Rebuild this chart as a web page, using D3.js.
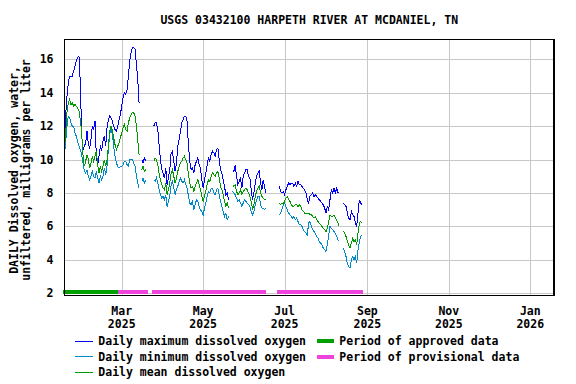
<!DOCTYPE html>
<html>
<head>
<meta charset="utf-8">
<script src="https://cdn.jsdelivr.net/npm/d3@7"></script>
<style>
body{margin:0;background:#fff}
text{font-family:"DejaVu Sans Mono",monospace;font-weight:bold;font-size:11.5px;fill:#000}
</style>
</head>
<body>
<svg id="chart" width="576" height="384"></svg>
<script>
// daily values, one per day starting at firstDay; null = no data
var firstDay = "2025-01-17"
var maxDO = [10.2,12.6,13.8,14.6,15.0,15.0,15.0,15.3,15.6,15.9,
  16.1,16.2,14.6,11.5,10.6,10.8,11.0,11.7,10.9,10.7,
  11.2,12.0,11.8,12.3,10.2,9.7,10.2,10.8,10.6,11.1,
  11.4,10.8,11.9,12.4,12.6,12.5,12.3,12.0,11.8,11.7,
  12.0,12.4,12.7,13.2,13.7,14.0,13.9,14.2,15.0,15.9,
  16.4,16.7,16.7,16.6,15.7,14.8,13.4,
  null,
  10.0,9.8,10.1,9.9,
  null,null,null,null,null,
  12.0,12.2,12.2,11.8,10.9,10.0,9.4,9.2,8.9,9.5,
  8.5,8.9,9.4,10.4,10.5,9.9,9.3,9.8,10.8,11.2,
  11.7,12.2,12.4,12.6,12.6,12.3,10.8,9.9,9.4,9.5,
  9.2,9.7,9.9,10.1,9.7,9.5,8.8,8.3,8.8,9.2,
  9.7,10.1,9.9,10.3,10.5,10.4,10.2,10.6,10.7,10.0,
  9.4,9.2,8.8,8.4,7.9,8.0,7.6,
  null,null,
  9.4,9.3,9.7,9.0,8.5,8.7,8.9,8.3,9.0,9.2,
  9.4,9.4,9.0,8.9,8.2,7.6,8.0,8.6,9.0,9.2,
  9.3,8.6,8.2,8.8,8.4,8.0,
  null,null,null,null,null,null,null,null,null,
  8.4,8.1,8.0,8.1,7.9,8.2,8.4,8.6,8.5,8.6,
  8.6,8.4,8.6,8.4,8.7,8.5,8.5,8.4,8.3,8.2,
  8.0,7.6,7.4,7.8,7.9,8.0,7.8,7.9,7.8,7.7,
  7.6,7.5,7.4,7.3,7.1,6.8,7.2,7.0,7.6,8.2,
  8.0,8.3,8.0,8.3,8.0,8.1,
  null,null,
  7.4,7.3,7.2,6.8,6.5,6.4,6.9,6.7,6.6,6.2,6.0,6.8,7.6,7.4,7.3]

var minDO = [10.2,11.0,12.0,12.6,12.5,12.2,12.0,12.0,11.6,11.4,
  11.1,10.8,10.6,10.3,9.8,9.3,9.2,9.4,9.0,8.8,
  9.0,9.3,9.0,8.9,9.3,8.9,8.6,9.0,8.8,9.0,
  9.5,9.1,9.6,10.6,11.5,11.8,11.5,10.8,10.2,9.8,
  9.6,9.5,9.6,9.6,9.7,9.9,9.9,9.7,9.6,10.0,
  10.0,10.0,9.8,9.6,9.0,8.6,8.3,
  null,
  8.7,8.9,8.6,8.8,
  null,null,null,null,null,
  8.8,8.7,8.9,8.6,8.2,7.9,7.7,7.8,7.6,7.9,
  7.2,7.5,7.8,8.5,8.7,8.3,7.9,8.2,8.4,8.7,
  8.9,8.7,8.6,8.8,8.5,8.3,7.8,7.4,7.3,7.5,
  7.0,7.3,7.6,7.5,7.2,7.0,6.9,6.7,7.1,7.4,
  7.8,8.1,8.0,8.3,8.3,8.0,7.9,8.2,8.3,7.9,
  7.5,7.2,6.9,6.6,6.8,6.4,6.6,
  null,null,
  8.1,8.0,7.9,7.7,7.5,7.6,7.4,7.2,7.4,7.6,
  7.5,7.4,7.3,7.2,6.9,6.7,6.9,7.3,7.6,7.8,
  7.8,7.3,7.1,7.1,7.0,7.1,
  null,null,null,null,null,null,null,null,null,
  6.7,6.8,7.0,7.3,7.4,7.2,7.0,6.8,6.7,6.6,
  6.5,6.6,6.4,6.5,6.3,6.1,6.1,6.0,5.8,5.7,
  5.6,5.5,6.2,6.3,6.0,5.8,5.7,5.6,5.4,5.3,
  5.1,5.0,4.9,4.7,4.6,4.5,4.9,5.5,6.0,5.9,
  5.8,5.7,5.6,5.4,5.2,5.1,
  null,null,
  4.7,4.5,4.2,3.8,3.6,3.5,4.0,4.2,4.0,4.2,3.8,4.6,5.1,5.4,5.5]

var meanDO = [10.5,11.5,12.8,13.4,13.6,13.3,13.4,13.2,13.3,13.2,
  13.1,12.9,12.4,11.6,10.3,9.6,9.9,10.3,10.0,9.5,
  9.8,10.2,9.9,10.2,10.5,9.7,9.2,9.6,9.3,9.6,
  10.0,9.6,10.0,10.8,11.7,12.0,11.8,11.3,10.9,10.6,
  10.8,11.0,11.3,11.6,11.9,12.1,11.8,11.7,12.2,12.5,
  12.7,12.8,12.8,12.6,12.0,11.2,10.3,
  null,
  9.4,9.6,9.3,9.4,
  null,null,null,null,null,
  9.9,10.1,10.0,9.7,9.2,8.8,8.5,8.3,8.2,8.6,
  7.9,8.2,8.6,9.2,9.4,9.0,8.6,8.9,9.3,9.6,
  9.8,9.9,10.1,10.2,10.0,9.8,9.1,8.6,8.3,8.4,
  8.1,8.4,8.6,8.8,8.5,8.2,7.8,7.5,7.8,8.1,
  8.5,8.8,8.7,9.0,9.2,9.1,9.0,9.2,9.3,8.9,
  8.4,8.2,7.9,7.5,7.2,7.4,7.1,
  null,null,
  8.5,8.4,8.5,8.1,7.9,8.0,8.2,7.9,8.1,8.2,
  8.3,8.2,8.0,7.8,7.5,7.0,7.3,7.8,8.1,8.3,
  8.4,8.0,7.8,7.7,7.6,7.6,
  null,null,null,null,null,null,null,null,null,
  7.4,7.3,7.4,7.35,7.5,7.7,7.8,7.6,7.5,7.3,
  7.2,7.2,7.3,7.3,7.2,7.3,7.2,7.0,6.9,6.8,
  6.8,6.8,6.8,6.7,6.7,6.6,6.5,6.6,6.4,6.3,
  6.2,6.1,6.0,5.9,5.8,5.7,5.9,6.3,6.7,6.6,
  6.6,6.7,6.5,6.4,6.2,6.0,
  null,null,
  5.7,5.6,5.4,5.1,4.9,4.7,5.0,5.3,5.1,5.2,4.9,5.6,6.2,6.3,6.2]

var approvedPeriods = [["2025-01-16","2025-02-26"]]
var provisionalPeriods = [["2025-02-26","2025-03-21"],["2025-03-24","2025-06-17"],["2025-06-25","2025-08-29"]]

var yTicks = [2,4,6,8,10,12,14,16]
var xTicks = ["2025-03-01","2025-05-01","2025-07-01","2025-09-01","2025-11-01","2026-01-01"]
var xTickLabels = [["Mar","2025"],["May","2025"],["Jul","2025"],["Sep","2025"],["Nov","2025"],["Jan","2026"]]

var title = "USGS 03432100 HARPETH RIVER AT MCDANIEL, TN"
var yTitle = ["DAILY Dissolved oxygen, water,","unfiltered, milligrams per liter"]

var seriesNames = ["Daily maximum dissolved oxygen","Daily minimum dissolved oxygen","Daily mean dissolved oxygen"]
var seriesColors = ["#0000ff","#0088cc","#009900"]
var periodNames = ["Period of approved data","Period of provisional data"]
var periodColors = ["#00a000","#ee44dd"]

var parse = d3.utcParse("%Y-%m-%d")
var svg = d3.select("#chart")

// plot box (window.top is reserved, so keep these names distinct)
var pLeft = 64.3, pRight = 554.3, pTop = 39.3, pBottom = 295.5

var x = d3.scaleUtc()
  .domain([parse("2025-01-17"), parse("2026-01-19")])
  .range([pLeft, pRight])
var y = d3.scaleLinear().domain([1.87, 17.2]).range([pBottom, pTop])

// gridlines
svg.append("g")
  .attr("transform","translate(0,"+pBottom+")")
  .call(d3.axisBottom(x).tickValues(xTicks.map(parse)).tickSize(-(pBottom-pTop)).tickFormat(""))
  .call(function(g){g.select(".domain").remove()})
  .selectAll("line").attr("stroke","#c8c8c8").attr("shape-rendering","crispEdges")

svg.append("g")
  .attr("transform","translate("+pLeft+",0)")
  .call(d3.axisLeft(y).tickValues(yTicks).tickSize(-(pRight-pLeft)).tickFormat(""))
  .call(function(g){g.select(".domain").remove()})
  .selectAll("line").attr("stroke","#c8c8c8").attr("shape-rendering","crispEdges")

// tick labels
svg.append("g").selectAll("text")
  .data(yTicks).enter().append("text")
  .attr("x", 53.5)
  .attr("y", function(d){return y(d)+4})
  .attr("text-anchor","end")
  .text(function(d){return d})

var xl = svg.append("g").selectAll("text")
  .data(xTicks).enter().append("text")
  .attr("text-anchor","middle")
xl.append("tspan").attr("x",function(d){return x(parse(d))}).attr("y",315)
  .text(function(d,i){return xTickLabels[i][0]})
xl.append("tspan").attr("x",function(d){return x(parse(d))}).attr("y",327.5)
  .text(function(d,i){return xTickLabels[i][1]})

// series lines
var day0 = parse(firstDay)
function toPoints(arr){
  return arr.map(function(v,i){return {date:d3.utcDay.offset(day0,i), value:v}})
}
var line = d3.line()
  .defined(function(d){return d.value !== null})
  .x(function(d){return x(d.date)})
  .y(function(d){return y(d.value)})

var allSeries = [maxDO, minDO, meanDO]
svg.append("g").selectAll("path")
  .data(allSeries).enter().append("path")
  .attr("d", function(d){return line(toPoints(d))})
  .attr("fill","none")
  .attr("stroke",function(d,i){return seriesColors[i]})
  .attr("stroke-width",1)
  .attr("shape-rendering","crispEdges")

// period bars
var barY = pBottom - 3.8
function drawPeriods(list,color){
  svg.append("g").selectAll("line")
    .data(list).enter().append("line")
    .attr("x1",function(d){return x(parse(d[0]))})
    .attr("x2",function(d){return x(parse(d[1]))})
    .attr("y1",barY).attr("y2",barY)
    .attr("stroke",color).attr("stroke-width",4)
    .attr("shape-rendering","crispEdges")
}
drawPeriods(approvedPeriods, periodColors[0])
drawPeriods(provisionalPeriods, periodColors[1])

// frame
svg.append("rect")
  .attr("x",pLeft).attr("y",pTop)
  .attr("width",pRight-pLeft).attr("height",pBottom-pTop)
  .attr("fill","none").attr("stroke","#000").attr("stroke-width",1.6)
  .attr("shape-rendering","crispEdges")

// title
svg.append("text")
  .attr("x",(pLeft+pRight)/2).attr("y",24.3)
  .attr("text-anchor","middle")
  .text(title)

svg.append("g").selectAll("text")
  .data(yTitle).enter().append("text")
  .attr("transform",function(d,i){return "translate("+(18+i*11.5)+",170) rotate(-90)"})
  .attr("text-anchor","middle")
  .text(function(d){return d})

// legend
var rowY = [341, 356.5, 372.3]
var lg = svg.append("g")
seriesNames.forEach(function(name,i){
  lg.append("line").attr("x1",75).attr("x2",92.7)
    .attr("y1",rowY[i]).attr("y2",rowY[i])
    .attr("stroke",seriesColors[i]).attr("stroke-width",1)
    .attr("shape-rendering","crispEdges")
  lg.append("text").attr("x",98.3).attr("y",rowY[i]+4).text(name)
})
periodNames.forEach(function(name,i){
  lg.append("line").attr("x1",316.7).attr("x2",334)
    .attr("y1",rowY[i]).attr("y2",rowY[i])
    .attr("stroke",periodColors[i]).attr("stroke-width",4)
    .attr("shape-rendering","crispEdges")
  lg.append("text").attr("x",339.3).attr("y",rowY[i]+4).text(name)
})
</script>
</body>
</html>
